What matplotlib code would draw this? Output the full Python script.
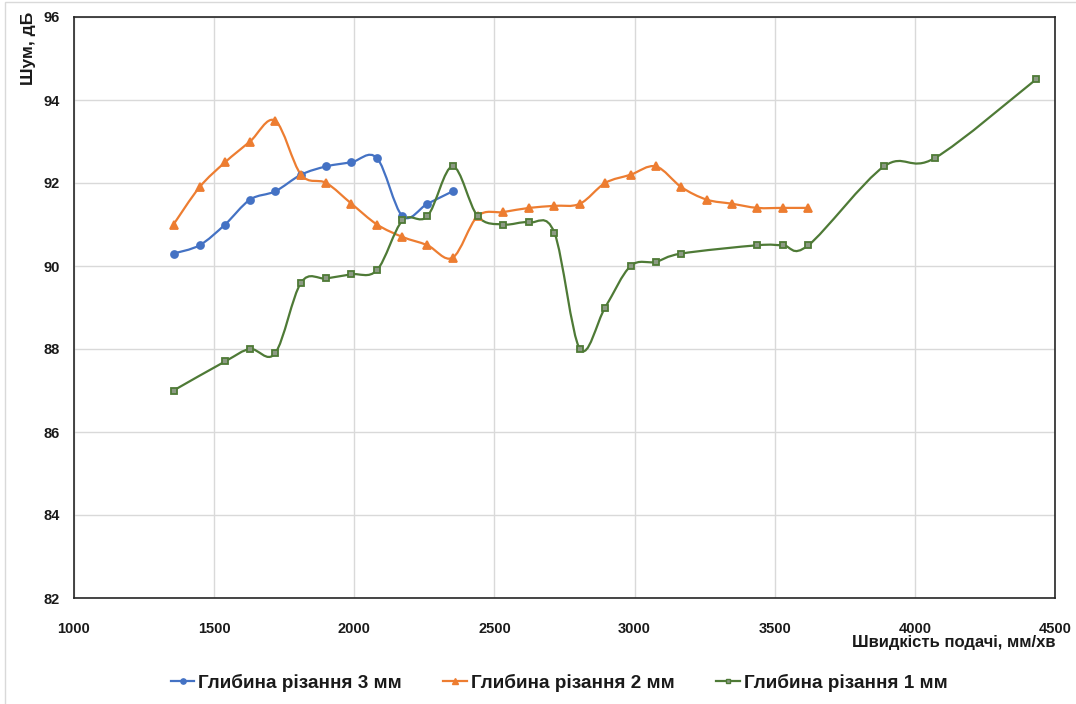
import numpy as np
import matplotlib
matplotlib.use("Agg")
import matplotlib.pyplot as plt
from matplotlib.path import Path
from matplotlib.patches import PathPatch, Rectangle
from matplotlib.lines import Line2D

plt.rcParams['font.family'] = ['Liberation Sans', 'DejaVu Sans']

# ---- data ----
x_3mm = [1355, 1448, 1539, 1628, 1718, 1810, 1900, 1990, 2081, 2172, 2261, 2351]
y_3mm = [90.3, 90.5, 91.0, 91.6, 91.8, 92.2, 92.4, 92.5, 92.6, 91.2, 91.5, 91.8]

x_2mm = [1355, 1448, 1539, 1628, 1718, 1810, 1900, 1990, 2081, 2172, 2261, 2351,
         2440, 2532, 2624, 2714, 2805, 2895, 2986, 3076, 3167, 3257, 3348, 3438,
         3529, 3620]
y_2mm = [91.0, 91.9, 92.5, 93.0, 93.5, 92.2, 92.0, 91.5, 91.0, 90.7, 90.5, 90.2,
         91.2, 91.3, 91.4, 91.45, 91.5, 92.0, 92.2, 92.4, 91.9, 91.6, 91.5, 91.4,
         91.4, 91.4]

x_1mm = [1355, 1539, 1628, 1718, 1810, 1900, 1990, 2081, 2172, 2261, 2351, 2440,
         2532, 2624, 2714, 2805, 2895, 2986, 3076, 3167, 3438, 3529, 3620, 3890,
         4071, 4433]
y_1mm = [87.0, 87.7, 88.0, 87.9, 89.6, 89.7, 89.8, 89.9, 91.1, 91.2, 92.4, 91.2,
         91.0, 91.05, 90.8, 88.0, 89.0, 90.0, 90.1, 90.3, 90.5, 90.5, 90.5, 92.4,
         92.6, 94.5]

labels = ['Глибина різання 3 мм', 'Глибина різання 2 мм', 'Глибина різання 1 мм']
x_ticks = [1000, 1500, 2000, 2500, 3000, 3500, 4000, 4500]
y_ticks = [82, 84, 86, 88, 90, 92, 94, 96]
x_title = 'Швидкість подачі, мм/хв'
y_title = 'Шум, дБ'

# ---- styles ----
c_blue = '#4472C4'
c_orange = '#ED7D31'
c_green = '#4E7A36'
green_face = '#8C9A84'
grid_c = '#D9D9D9'
text_c = '#1A1A1A'

W, H = 1076, 704
fig = plt.figure(figsize=(W / 100, H / 100), dpi=100)
left, right, top, bottom = 74, 1055, 17, 598
ax = fig.add_axes([left / W, 1 - bottom / H, (right - left) / W, (bottom - top) / H])
ax.set_xlim(1000, 4500)
ax.set_ylim(82, 96)
ax.set_xticks(x_ticks)
ax.set_yticks(y_ticks)
ax.grid(True, color=grid_c, linewidth=1.0)
ax.set_axisbelow(True)
for s in ax.spines.values():
    s.set_color('#262626')
    s.set_linewidth(1.2)
ax.tick_params(length=0)
ax.tick_params(axis='y', pad=10, labelsize=10.5)
ax.tick_params(axis='x', pad=17, labelsize=10.5)
for lab in ax.get_xticklabels() + ax.get_yticklabels():
    lab.set_fontweight('bold')
    lab.set_color(text_c)


def smooth_path(xs, ys):
    pts = ax.transData.transform(np.column_stack([xs, ys]))
    n = len(pts)
    verts = [pts[0]]
    codes = [Path.MOVETO]
    for i in range(n - 1):
        p0 = pts[i - 1] if i > 0 else pts[i]
        p1 = pts[i]
        p2 = pts[i + 1]
        p3 = pts[i + 2] if i + 2 < n else pts[i + 1]
        c1 = p1 + (p2 - p0) / 6.0
        c2 = p2 - (p3 - p1) / 6.0
        verts += [c1, c2, p2]
        codes += [Path.CURVE4] * 3
    verts = ax.transData.inverted().transform(np.array(verts))
    return Path(verts, codes)


series = [
    (x_3mm, y_3mm, c_blue, 'o', c_blue, c_blue, 5.0),
    (x_2mm, y_2mm, c_orange, '^', c_orange, c_orange, 5.8),
    (x_1mm, y_1mm, c_green, 's', green_face, c_green, 4.8),
]
handles = []
for (xs, ys, col, mk, mfc, mec, ms), lab in zip(series, labels):
    ax.add_patch(PathPatch(smooth_path(xs, ys), facecolor='none', edgecolor=col,
                           linewidth=1.6, zorder=3))
    ax.plot(xs, ys, linestyle='none', marker=mk, markersize=ms,
            markerfacecolor=mfc, markeredgecolor=mec, markeredgewidth=1.3, zorder=4)
    handles.append(Line2D([], [], color=col, linewidth=1.6, marker=mk,
                          markersize=ms - 1.2, markerfacecolor=mfc,
                          markeredgecolor=mec, markeredgewidth=1.0))

fig.text(28 / W, 1 - 48 / H, y_title, rotation=90, ha='center', va='center',
         fontsize=12.5, fontweight='bold', color=text_c)
fig.text(1056 / W, 1 - 643 / H, x_title, ha='right', va='center',
         fontsize=12, fontweight='bold', color=text_c)

leg = fig.legend(handles, labels, loc='center', bbox_to_anchor=(559 / W, 1 - 683 / H),
                 ncol=3, frameon=False, fontsize=13.6, handlelength=1.25,
                 handletextpad=0.2, columnspacing=2.2)
for t in leg.get_texts():
    t.set_fontweight('bold')
    t.set_color(text_c)

fig.add_artist(Rectangle((5 / W, -0.1), 1.2, 1.1 - 2 / H, transform=fig.transFigure,
                         facecolor='none', edgecolor=grid_c, linewidth=1.0))

fig.savefig('out.png', dpi=100)
